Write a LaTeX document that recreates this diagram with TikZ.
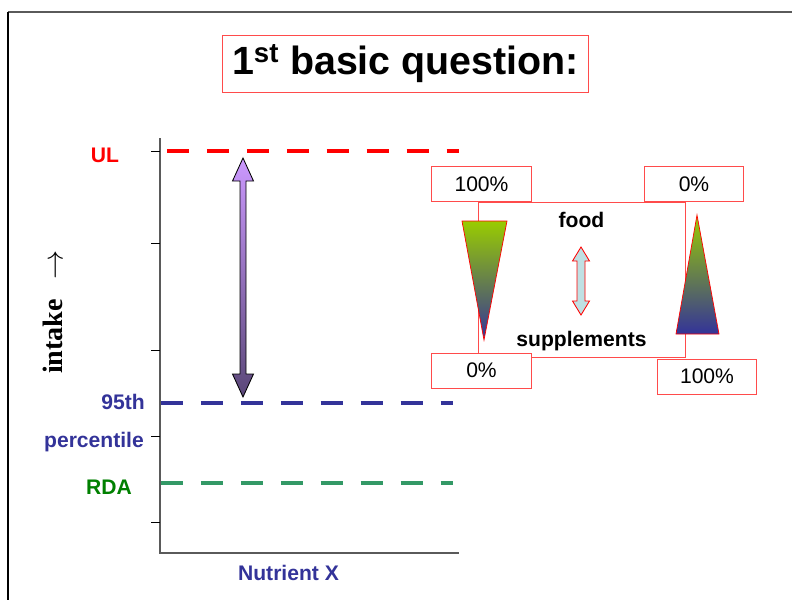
\documentclass[tikz,border=0pt]{standalone}
\usepackage{fontspec}
\setmainfont{Liberation Sans}
\newfontfamily\serifbold{Liberation Serif}
\usepackage{tikz}
\usetikzlibrary{positioning}
\definecolor{ulred}{HTML}{FF0000}
\definecolor{pctblue}{HTML}{333399}
\definecolor{rdagreen}{HTML}{008000}
\definecolor{rdaline}{HTML}{339966}
\definecolor{boxred}{HTML}{FF4B4B}
\definecolor{axisgray}{HTML}{5A5A5A}
\definecolor{lilac}{HTML}{CC99FF}
\definecolor{plum}{HTML}{5A4778}
\definecolor{leaf}{HTML}{99CC00}
\definecolor{pale}{HTML}{BFE0E3}

\begin{document}
\begin{tikzpicture}[x=0.025cm, y=-0.025cm,
    lab/.style={font=\fontsize{15}{18}\selectfont\bfseries},
    pct/.style={draw=boxred, fill=white, line width=0.7pt, inner sep=0pt,
      minimum width=2.475cm, minimum height=0.875cm, font=\fontsize{15}{18}\selectfont},
    level/.style={line width=3.5pt, dash pattern=on 15.6pt off 12.8pt}]
    % frame
    \useasboundingbox (0,0) rectangle (792,600);
    \draw[axisgray, line width=0.8pt] (8,12) -- (792,12);
    \draw[black, line width=0.8pt] (8,12) -- (8,600);
    % title
    \node[draw=boxred, line width=0.7pt, minimum width=9.125cm, minimum height=1.425cm,
      inner sep=0pt, font=\fontsize{28}{34}\selectfont\bfseries] (title) at (405.5,63.5)
      {1\textsuperscript{st} basic question:};
    % axes
    \draw[axisgray, line width=1.1pt] (160,138) -- (160,553) -- (459,553);
    \foreach \y in {151,243,350,436,522} {
      \draw[black, line width=0.6pt] (151,\y) -- (160,\y);
    }
    \node[font=\serifbold\fontsize{20}{24}\selectfont\bfseries, rotate=90] (intake) at (53,312)
      {intake\hspace{14pt}$\rightarrow$};
    \node[lab, pctblue] (nutrient) at (288.5,573) {Nutrient X};
    % levels
    \draw[level, ulred] (167,151) -- (459,151);
    \draw[level, pctblue] (161,403) -- (453,403);
    \draw[level, rdaline] (161,483) -- (453,483);
    \node[lab, ulred] (ul) at (105,155) {UL};
    \node[lab, pctblue] (p95) at (123,402) {95th};
    \node[lab, pctblue] (pctl) at (94,442) {percentile};
    \node[lab, rdagreen] (rda) at (109,487) {RDA};
    % range arrow
    \shadedraw[top color=lilac, bottom color=plum, draw=black, line width=0.6pt]
      (243,158) -- (253.5,181) -- (246,181) -- (246,374) -- (253.5,374) -- (243,397)
      -- (232.5,374) -- (240,374) -- (240,181) -- (232.5,181) -- cycle;
    % food / supplements
    \node[pct] (foodtop) at (481.5,184) {100\%};
    \node[pct] (supptop) at (694,184) {0\%};
    \draw[boxred, line width=0.7pt] (478,202) rectangle (685,357);
    \shadedraw[top color=leaf, bottom color=pctblue, draw=red, line width=0.5pt]
      (462,221) -- (507,221) -- (484,340) -- cycle;
    \shadedraw[top color=leaf, bottom color=pctblue, draw=red, line width=0.5pt]
      (697,215) -- (719,334) -- (676,334) -- cycle;
    \node[pct] (foodbot) at (481.5,370.5) {0\%};
    \node[pct] (suppbot) at (707,376.5) {100\%};
    \node[lab] (food) at (581.5,220) {food};
    \node[lab] (supp) at (581.5,341) {supplements};
    \filldraw[fill=pale, draw=red, line width=0.6pt]
      (581,247) -- (589.5,261) -- (585,261) -- (585,301) -- (589.5,301) -- (581,315)
      -- (572.5,301) -- (577,301) -- (577,261) -- (572.5,261) -- cycle;
\end{tikzpicture}
\end{document}
